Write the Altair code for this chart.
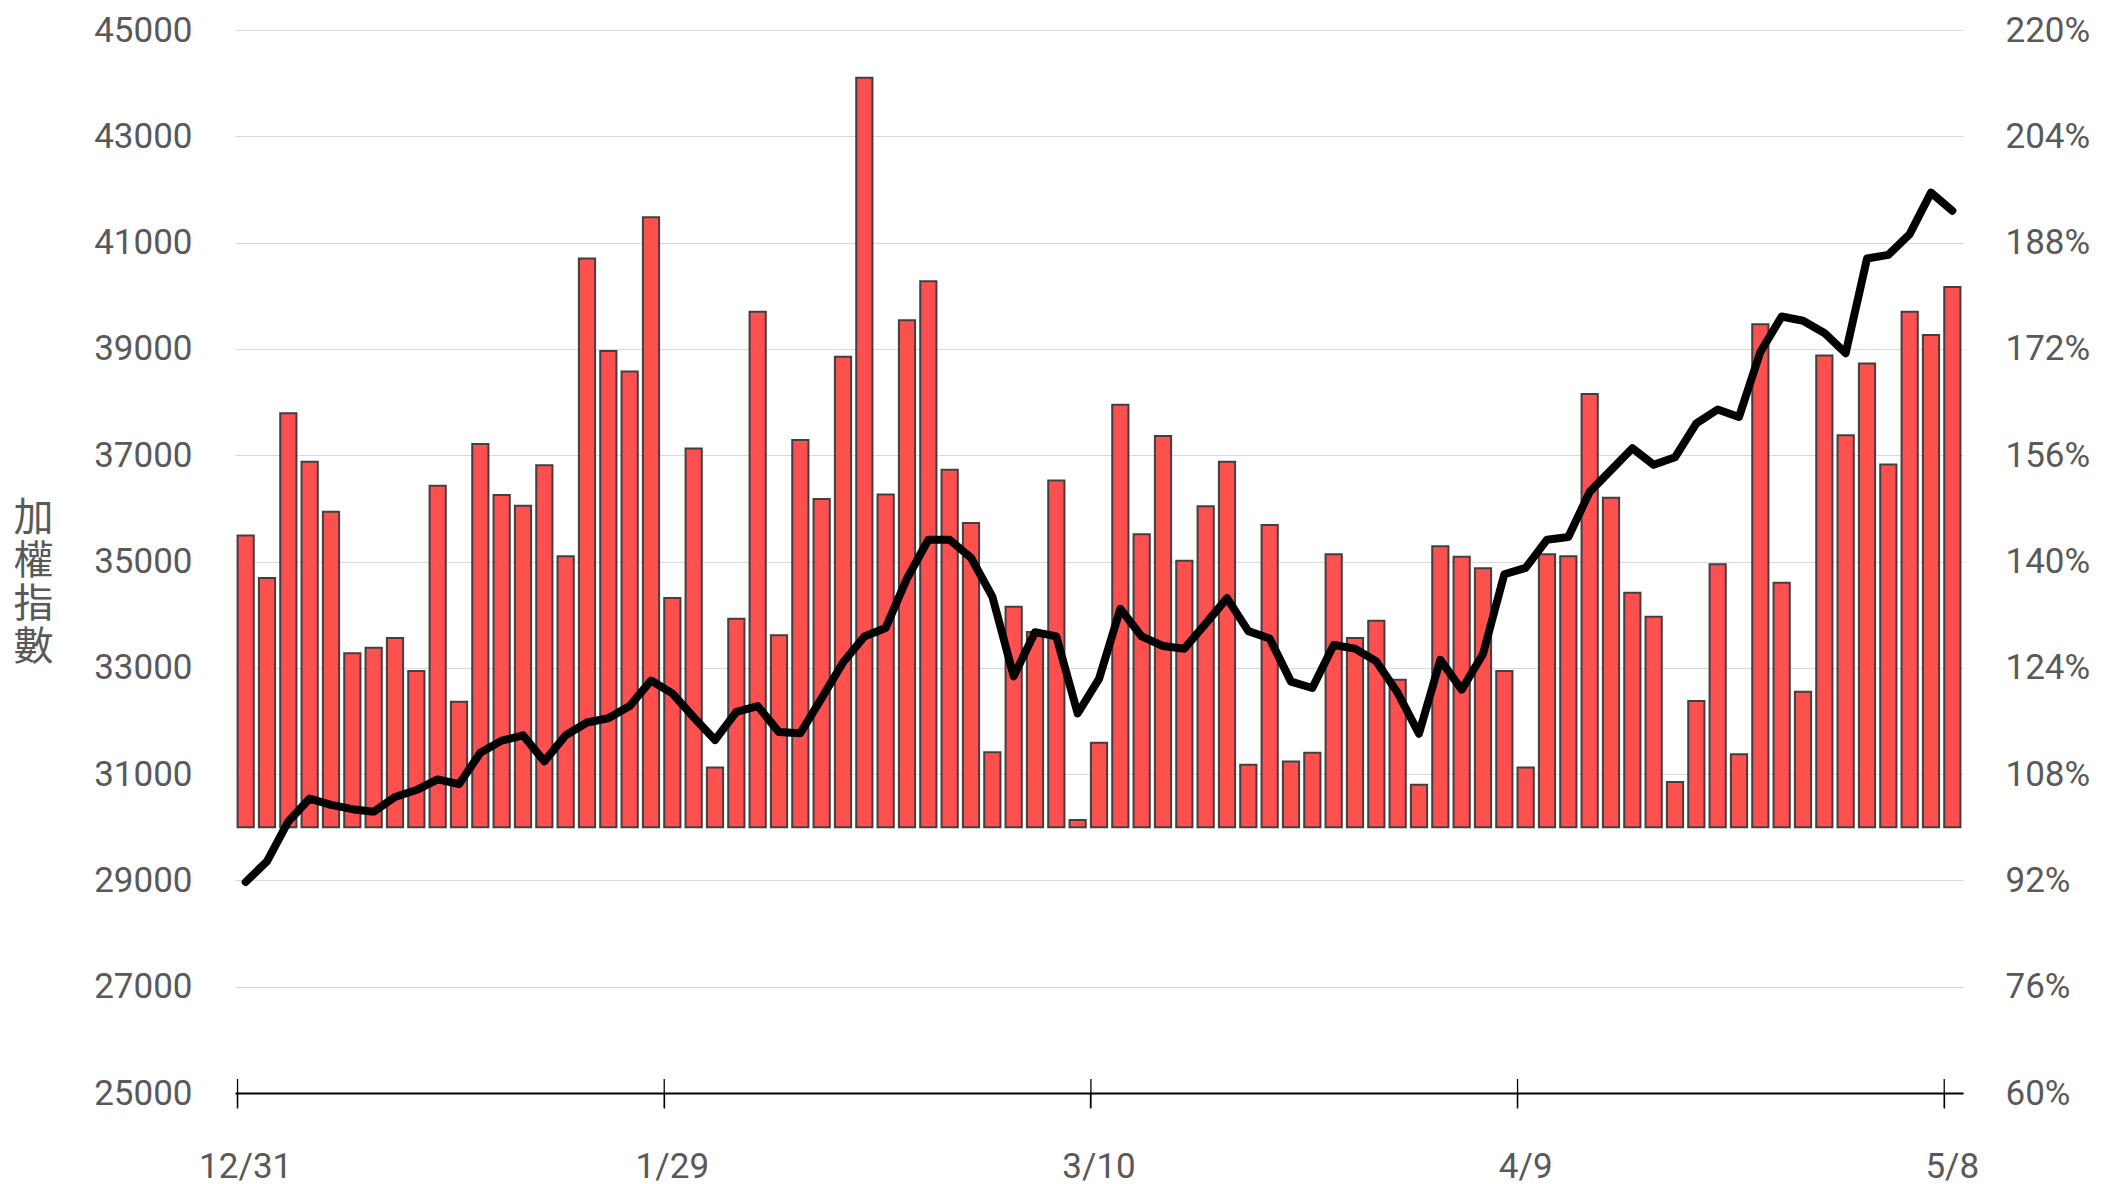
import altair as alt
import pandas as pd

# bar values (right axis, %), baseline 100%
bar_pct = [143.9, 137.5, 162.3, 155.0, 147.5, 126.2, 127.0, 128.5, 123.5, 151.4,
           118.9, 157.7, 150.0, 148.4, 154.5, 140.8, 185.6, 171.7, 168.6, 191.8,
           134.5, 157.0, 109.0, 131.4, 177.6, 128.9, 158.3, 149.4, 170.8, 212.8,
           150.1, 176.3, 182.2, 153.8, 145.8, 111.3, 133.2, 129.4, 152.2, 101.1,
           112.7, 163.6, 144.1, 158.9, 140.1, 148.3, 155.0, 109.4, 145.5, 109.9,
           111.2, 141.1, 128.5, 131.1, 122.2, 106.4, 142.3, 140.7, 139.0, 123.5,
           109.0, 141.1, 140.8, 165.2, 149.6, 135.3, 131.7, 106.8, 119.0, 139.6,
           111.0, 175.7, 136.8, 120.4, 171.0, 159.0, 169.8, 154.6, 177.6, 174.1,
           181.3]

# index line (left axis)
index_vals = [28970, 29360, 30110, 30540, 30420, 30340, 30290, 30570, 30700, 30900,
              30810, 31400, 31630, 31730, 31240, 31730, 31970, 32050, 32280, 32760,
              32520, 32070, 31640, 32170, 32280, 31790, 31770, 32430, 33100, 33590,
              33750, 34680, 35410, 35410, 35070, 34340, 32840, 33670, 33590, 32140,
              32790, 34110, 33590, 33410, 33360, 33830, 34310, 33690, 33550, 32740,
              32620, 33430, 33360, 33120, 32530, 31760, 33150, 32590, 33260, 34760,
              34880, 35410, 35460, 36310, 36720, 37130, 36820, 36960, 37600, 37860,
              37720, 38940, 39610, 39530, 39300, 38920, 40700, 40770, 41160, 41940,
              41600]

tick_idx = [0, 20, 40, 60, 80]
tick_labels = ["12/31", "1/29", "3/10", "4/9", "5/8"]
left_ticks = list(range(25000, 45001, 2000))
right_ticks = list(range(60, 221, 16))
y_title = ["加", "權", "指", "數"]

W, H = 1728, 1063
n = len(bar_pct)
df = pd.DataFrame({"i": list(range(n)), "pct": bar_pct, "base": [100] * n, "idx": index_vals})
ticks_df = pd.DataFrame({"i": tick_idx})

label_expr = " : ".join(f"datum.value == {i} ? '{l}'" for i, l in zip(tick_idx, tick_labels)) + " : ''"

FONT = "Roboto"
LC = "#595959"

xscale = alt.Scale(domain=list(range(n)), paddingInner=0.24, paddingOuter=0.12)
xaxis = alt.Axis(values=tick_idx, labelExpr=label_expr, title=None, labelAngle=0,
                 bandPosition=0, labelOffset=0, tickSize=15, tickColor="black",
                 tickWidth=1.3, domainColor="black", domainWidth=2, labelPadding=41,
                 labelFontSize=35, labelColor=LC, labelFont=FONT, grid=False)
xenc = alt.X("i:O", scale=xscale, axis=xaxis)

bars = alt.Chart(df).mark_bar(color="#ff5050", stroke="#404040", strokeWidth=2).encode(
    x=xenc,
    y=alt.Y("pct:Q", scale=alt.Scale(domain=[60, 220], nice=False, zero=False),
            axis=alt.Axis(orient="right", values=right_ticks, labelExpr="datum.value + '%'",
                          title=None, grid=False, domain=False, ticks=False, labelPadding=42,
                          labelFontSize=35, labelColor=LC, labelFont=FONT)),
    y2="base:Q",
)

line = alt.Chart(df).mark_line(color="black", strokeWidth=8, strokeCap="round",
                               strokeJoin="round").encode(
    x=xenc,
    y=alt.Y("idx:Q", scale=alt.Scale(domain=[25000, 45000], nice=False, zero=False),
            axis=alt.Axis(orient="left", values=left_ticks, format="d", grid=True,
                          gridColor="#d9d9d9", gridWidth=1.2, domain=False, ticks=False,
                          labelPadding=43, labelFontSize=35, labelColor=LC, labelFont=FONT,
                          title=y_title, titleAngle=0, titleAlign="center",
                          titleBaseline="middle", titleX=-202, titleY=488,
                          titleFont="Noto Sans CJK TC", titleFontSize=40,
                          titleLineHeight=43, titleFontWeight="normal", titleColor=LC)),
)

tick_rules = alt.Chart(ticks_df).mark_rule(color="black", strokeWidth=1.3).encode(
    x=alt.X("i:O", scale=xscale, axis=xaxis, bandPosition=0),
    y=alt.value(H - 14),
    y2=alt.value(H + 15),
)

chart = alt.layer(bars, line, tick_rules).resolve_scale(y="independent").properties(
    width=W, height=H
).configure_view(stroke=None)

chart.save("out.html", embed_options={"renderer": "svg", "actions": False})
